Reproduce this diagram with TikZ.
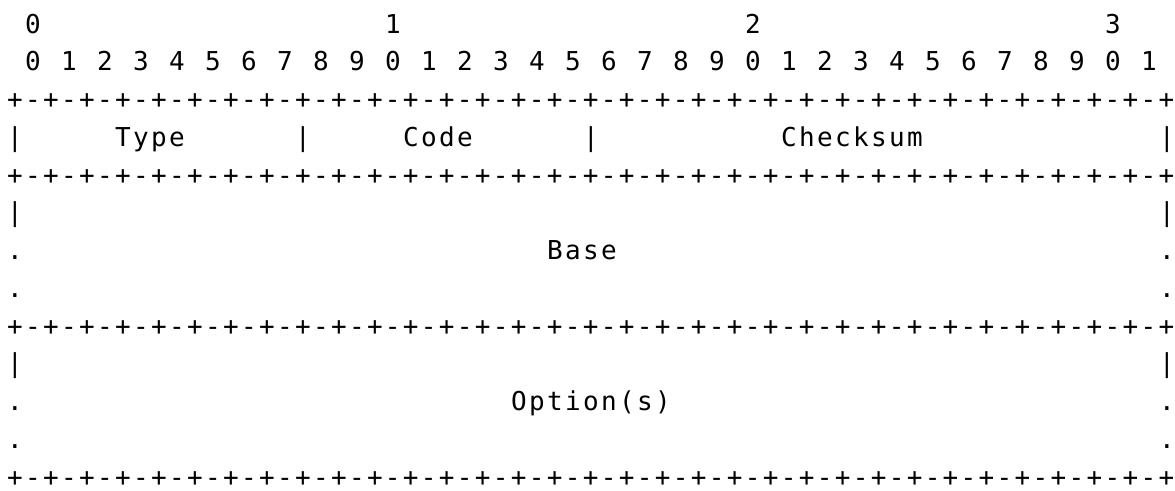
\documentclass[tikz,border=0pt]{standalone}
\usepackage{fontspec}
\newfontfamily\asciifont{DejaVu Sans Mono}[LetterSpace=9]
\usetikzlibrary{positioning}

\newcommand{\ruleline}{+-+-+-+-+-+-+-+-+-+-+-+-+-+-+-+-+-+-+-+-+-+-+-+-+-+-+-+-+-+-+-+-+}

\tikzset{
  cell/.style={anchor=base west, inner sep=0pt, outer sep=0pt, xshift=0.58pt,
    font=\asciifont\fontsize{13}{15}\selectfont},
}

\begin{document}
\begin{tikzpicture}[x=9pt, y=-18.875pt]
\useasboundingbox (-0.3333,0.12) rectangle (64.944,13.12);

% bit numbers
\foreach \t in {0,...,3}
  \node[cell] (tens\t) at (20*\t+1, 1) {\t};
\foreach \b in {0,...,31} {
  \pgfmathtruncatemacro{\d}{mod(\b,10)}
  \node[cell] (bit\b) at (2*\b+1, 2) {\d};
}

% rules
\foreach \r in {3,5,9,13}
  \node[cell] (rule\r) at (0, \r) {\ruleline};

% first word
\foreach \c in {0,16,32,64}
  \node[cell] (bar\c) at (\c, 4) {|};
\node[cell] (type) at (6, 4) {Type};
\node[cell] (code) at (22, 4) {Code};
\node[cell] (checksum) at (43, 4) {Checksum};

% open-ended blocks
\foreach \r in {6,10} {
  \node[cell] (left\r) at (0, \r) {|};
  \node[cell] (right\r) at (64, \r) {|};
}
\foreach \r in {7,8,11,12} {
  \node[cell] (left\r) at (0, \r) {.};
  \node[cell] (right\r) at (64, \r) {.};
}
\node[cell] (base) at (30, 7) {Base};
\node[cell] (options) at (28, 11) {Option(s)};

\end{tikzpicture}
\end{document}
